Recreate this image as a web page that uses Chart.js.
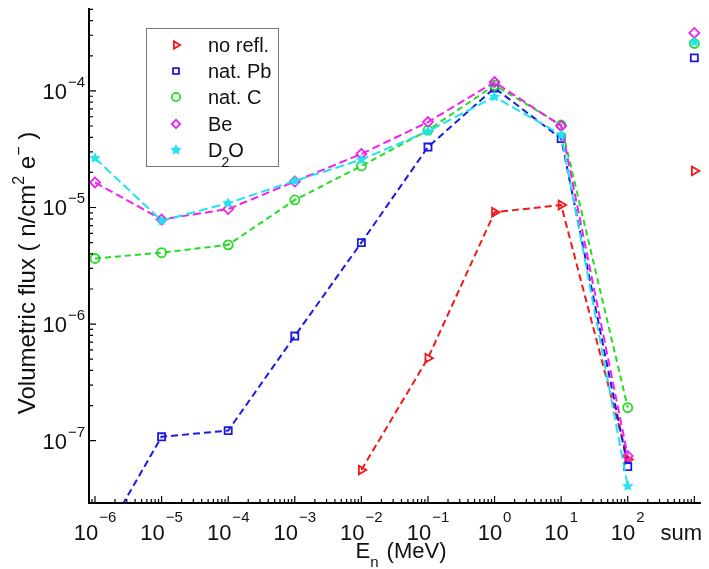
<!DOCTYPE html>
<html>
<head>
<meta charset="utf-8">
<script src="https://cdn.jsdelivr.net/npm/chart.js@4.4.0/dist/chart.umd.min.js"></script>
<style>
  body { margin: 0; background: #fff; }
  #wrap { width: 709px; height: 569px; }
</style>
</head>
<body>
<div id="wrap"><canvas id="fluxChart" width="709" height="569"></canvas></div>
<script>
// energy bins (MeV) and the extra "sum" column
const energies = [1e-6, 1e-5, 1e-4, 1e-3, 1e-2, 1e-1, 1, 10, 100];
const sumPosition = 1000;
const xTickExps = [-6, -5, -4, -3, -2, -1, 0, 1, 2];
const yTickExps = [-7, -6, -5, -4];

const seriesNames = ['no refl.', 'nat. Pb', 'nat. C', 'Be', 'D2O'];
const noRefl = [null, null, null, null, 5.6e-8, 5.1e-7, 9.1e-6, 1.05e-5, 6.9e-8];
const natPb  = [1.1e-8, 1.08e-7, 1.22e-7, 7.9e-7, 5.0e-6, 3.3e-5, 1.06e-4, 3.9e-5, 6.0e-8];
const natC   = [3.65e-6, 4.1e-6, 4.78e-6, 1.16e-5, 2.27e-5, 4.6e-5, 1.12e-4, 5.1e-5, 1.92e-7];
const be     = [1.64e-5, 7.9e-6, 9.7e-6, 1.67e-5, 2.88e-5, 5.4e-5, 1.19e-4, 5.0e-5, 7.4e-8];
const d2o    = [2.65e-5, 7.7e-6, 1.09e-5, 1.69e-5, 2.57e-5, 4.5e-5, 8.9e-5, 4.2e-5, 4.07e-8];
const sumValues = [2.06e-5, 1.92e-4, 2.55e-4, 3.14e-4, 2.62e-4];

const FONT = '"Liberation Sans", Arial, sans-serif';

function makeStar(color, size) {
    const c = document.createElement('canvas');
    c.width = c.height = size;
    const g = c.getContext('2d');
    g.fillStyle = color;
    g.beginPath();
    for (let i = 0; i < 10; i++) {
        const r = i % 2 === 0 ? size / 2 : size / 4.2;
        const a = -Math.PI / 2 + i * Math.PI / 5;
        g.lineTo(size / 2 + r * Math.cos(a), size / 2 + r * Math.sin(a));
    }
    g.closePath();
    g.fill();
    return c;
}

const styles = [
    { color: '#f01818', pointStyle: 'triangle', rotation: 90, radius: 5, dash: [7, 4] },
    { color: '#1a1ae0', pointStyle: 'rect', rotation: 0, radius: 5, dash: [7, 4] },
    { color: '#22dd22', pointStyle: 'circle', rotation: 0, radius: 4.5, dash: [6, 4] },
    { color: '#f020f0', pointStyle: 'rectRot', rotation: 0, radius: 5, dash: [8, 4] },
    { color: '#22e2ee', pointStyle: makeStar('#22e2ee', 12), rotation: 0, radius: 5, dash: [9, 4] }
];

const seriesList = [noRefl, natPb, natC, be, d2o];

const datasets = [];
seriesList.forEach((vals, i) => {
    const s = styles[i];
    const common = {
        borderColor: s.color,
        backgroundColor: 'rgba(0,0,0,0)',
        pointBorderColor: s.color,
        pointBackgroundColor: 'rgba(0,0,0,0)',
        pointStyle: s.pointStyle,
        pointRotation: s.rotation,
        pointRadius: s.radius,
        pointBorderWidth: 1.8,
        order: 4 - i
    };
    datasets.push({
        ...common,
        label: seriesNames[i],
        data: energies.map((x, j) => ({ x: x, y: vals[j] })).filter(p => p.y !== null),
        borderWidth: 2,
        borderDash: s.dash,
        tension: 0
    });
    datasets.push({
        ...common,
        label: seriesNames[i] + ' sum',
        data: [{ x: sumPosition, y: sumValues[i] }],
        showLine: false
    });
});

function widthOf(ctx, parts) {
    return parts.reduce((w, p) => {
        ctx.font = p.size + 'px ' + FONT;
        return w + ctx.measureText(p.t).width + (p.gap || 0);
    }, 0);
}

function drawParts(ctx, parts, x, y) {
    let cx = x;
    parts.forEach(p => {
        ctx.font = p.size + 'px ' + FONT;
        ctx.fillText(p.t, cx, y + (p.dy || 0));
        cx += ctx.measureText(p.t).width + (p.gap || 0);
    });
}

function power(exp) {
    return [
        { t: '10', size: 22, gap: 1 },
        { t: (exp < 0 ? '\u2212' : '') + Math.abs(exp), size: 15, dy: -18 }
    ];
}

// axes, ticks, labels and legend drawn on top of the chart
const framePlugin = {
    id: 'frame',
    afterDraw(chart) {
        const ctx = chart.ctx;
        const { left, right, top, bottom } = chart.chartArea;
        const xs = chart.scales.x, ys = chart.scales.y;
        ctx.save();
        ctx.strokeStyle = '#000';
        ctx.fillStyle = '#111';
        ctx.textBaseline = 'alphabetic';
        ctx.textAlign = 'left';

        ctx.lineWidth = 2;
        ctx.beginPath();
        ctx.moveTo(left, top);
        ctx.lineTo(left, bottom);
        ctx.lineTo(right, bottom);
        ctx.stroke();

        ctx.lineWidth = 1.2;
        ctx.beginPath();
        for (let e = -7; e <= 3; e++) {
            for (let m = 1; m <= 9; m++) {
                const v = m * Math.pow(10, e);
                const len = m === 1 ? 7 : 4;
                if (v >= xs.min && v <= xs.max) {
                    const px = xs.getPixelForValue(v);
                    ctx.moveTo(px, bottom);
                    ctx.lineTo(px, bottom - len);
                }
                if (v >= ys.min && v <= ys.max) {
                    const py = ys.getPixelForValue(v);
                    ctx.moveTo(left, py);
                    ctx.lineTo(left + len, py);
                }
            }
        }
        ctx.stroke();

        xTickExps.forEach(e => {
            const parts = power(e);
            const px = xs.getPixelForValue(Math.pow(10, e));
            drawParts(ctx, parts, px - widthOf(ctx, parts) / 2, 540);
        });
        ctx.font = '22px ' + FONT;
        ctx.textAlign = 'center';
        ctx.fillText('sum', xs.getPixelForValue(sumPosition) - 13, 540);
        ctx.textAlign = 'left';

        yTickExps.forEach(e => {
            const parts = power(e);
            parts[1].dy = -12;
            const py = ys.getPixelForValue(Math.pow(10, e));
            drawParts(ctx, parts, left - 4 - widthOf(ctx, parts), py + 8);
        });

        // x title
        const xt = [
            { t: 'E', size: 22 },
            { t: 'n', size: 15, dy: 9, gap: 2 },
            { t: ' (MeV)', size: 22 }
        ];
        drawParts(ctx, xt, 401 - widthOf(ctx, xt) / 2, 558);

        // y title
        const yt = [
            { t: 'Volumetric flux ( n/cm', size: 24 },
            { t: '2', size: 16, dy: -11 },
            { t: ' e', size: 24 },
            { t: '\u2212', size: 16, dy: -11 },
            { t: ' )', size: 24 }
        ];
        ctx.translate(26, 273);
        ctx.rotate(-Math.PI / 2);
        drawParts(ctx, yt, -widthOf(ctx, yt) / 2, 9);
        ctx.setTransform(1, 0, 0, 1, 0, 0);

        // legend box
        ctx.fillStyle = '#fff';
        ctx.fillRect(146, 28, 132, 138);
        ctx.strokeStyle = '#777';
        ctx.lineWidth = 1;
        ctx.strokeRect(146.5, 28.5, 132, 138);
        const rows = [45, 71, 97, 124, 150];
        seriesNames.forEach((name, i) => {
            const s = styles[i];
            ctx.strokeStyle = s.color;
            ctx.fillStyle = 'rgba(0,0,0,0)';
            ctx.lineWidth = 1.8;
            ctx.setLineDash([]);
            Chart.helpers.drawPoint(ctx, {
                pointStyle: s.pointStyle, rotation: s.rotation, radius: 4.2, borderWidth: 1.8
            }, 176, rows[i]);
            ctx.fillStyle = '#111';
            if (name === 'D2O') {
                drawParts(ctx, [
                    { t: 'D', size: 20, gap: -1 },
                    { t: '2', size: 14, dy: 10, gap: -1 },
                    { t: 'O', size: 20 }
                ], 208, rows[i] + 7);
            } else {
                drawParts(ctx, [{ t: name, size: 20 }], 208, rows[i] + 7);
            }
        });
        ctx.restore();
    }
};

new Chart(document.getElementById('fluxChart'), {
    type: 'line',
    data: { datasets: datasets },
    options: {
        responsive: false,
        animation: false,
        layout: { padding: { left: 89, top: 8, right: 8, bottom: 66 } },
        plugins: { legend: { display: false }, tooltip: { enabled: false } },
        scales: {
            x: { type: 'logarithmic', min: Math.pow(10, -6.09), max: Math.pow(10, 3.1), display: false },
            y: { type: 'logarithmic', min: 2.92e-8, max: 5.14e-4, display: false }
        }
    },
    plugins: [framePlugin]
});
</script>
</body>
</html>
